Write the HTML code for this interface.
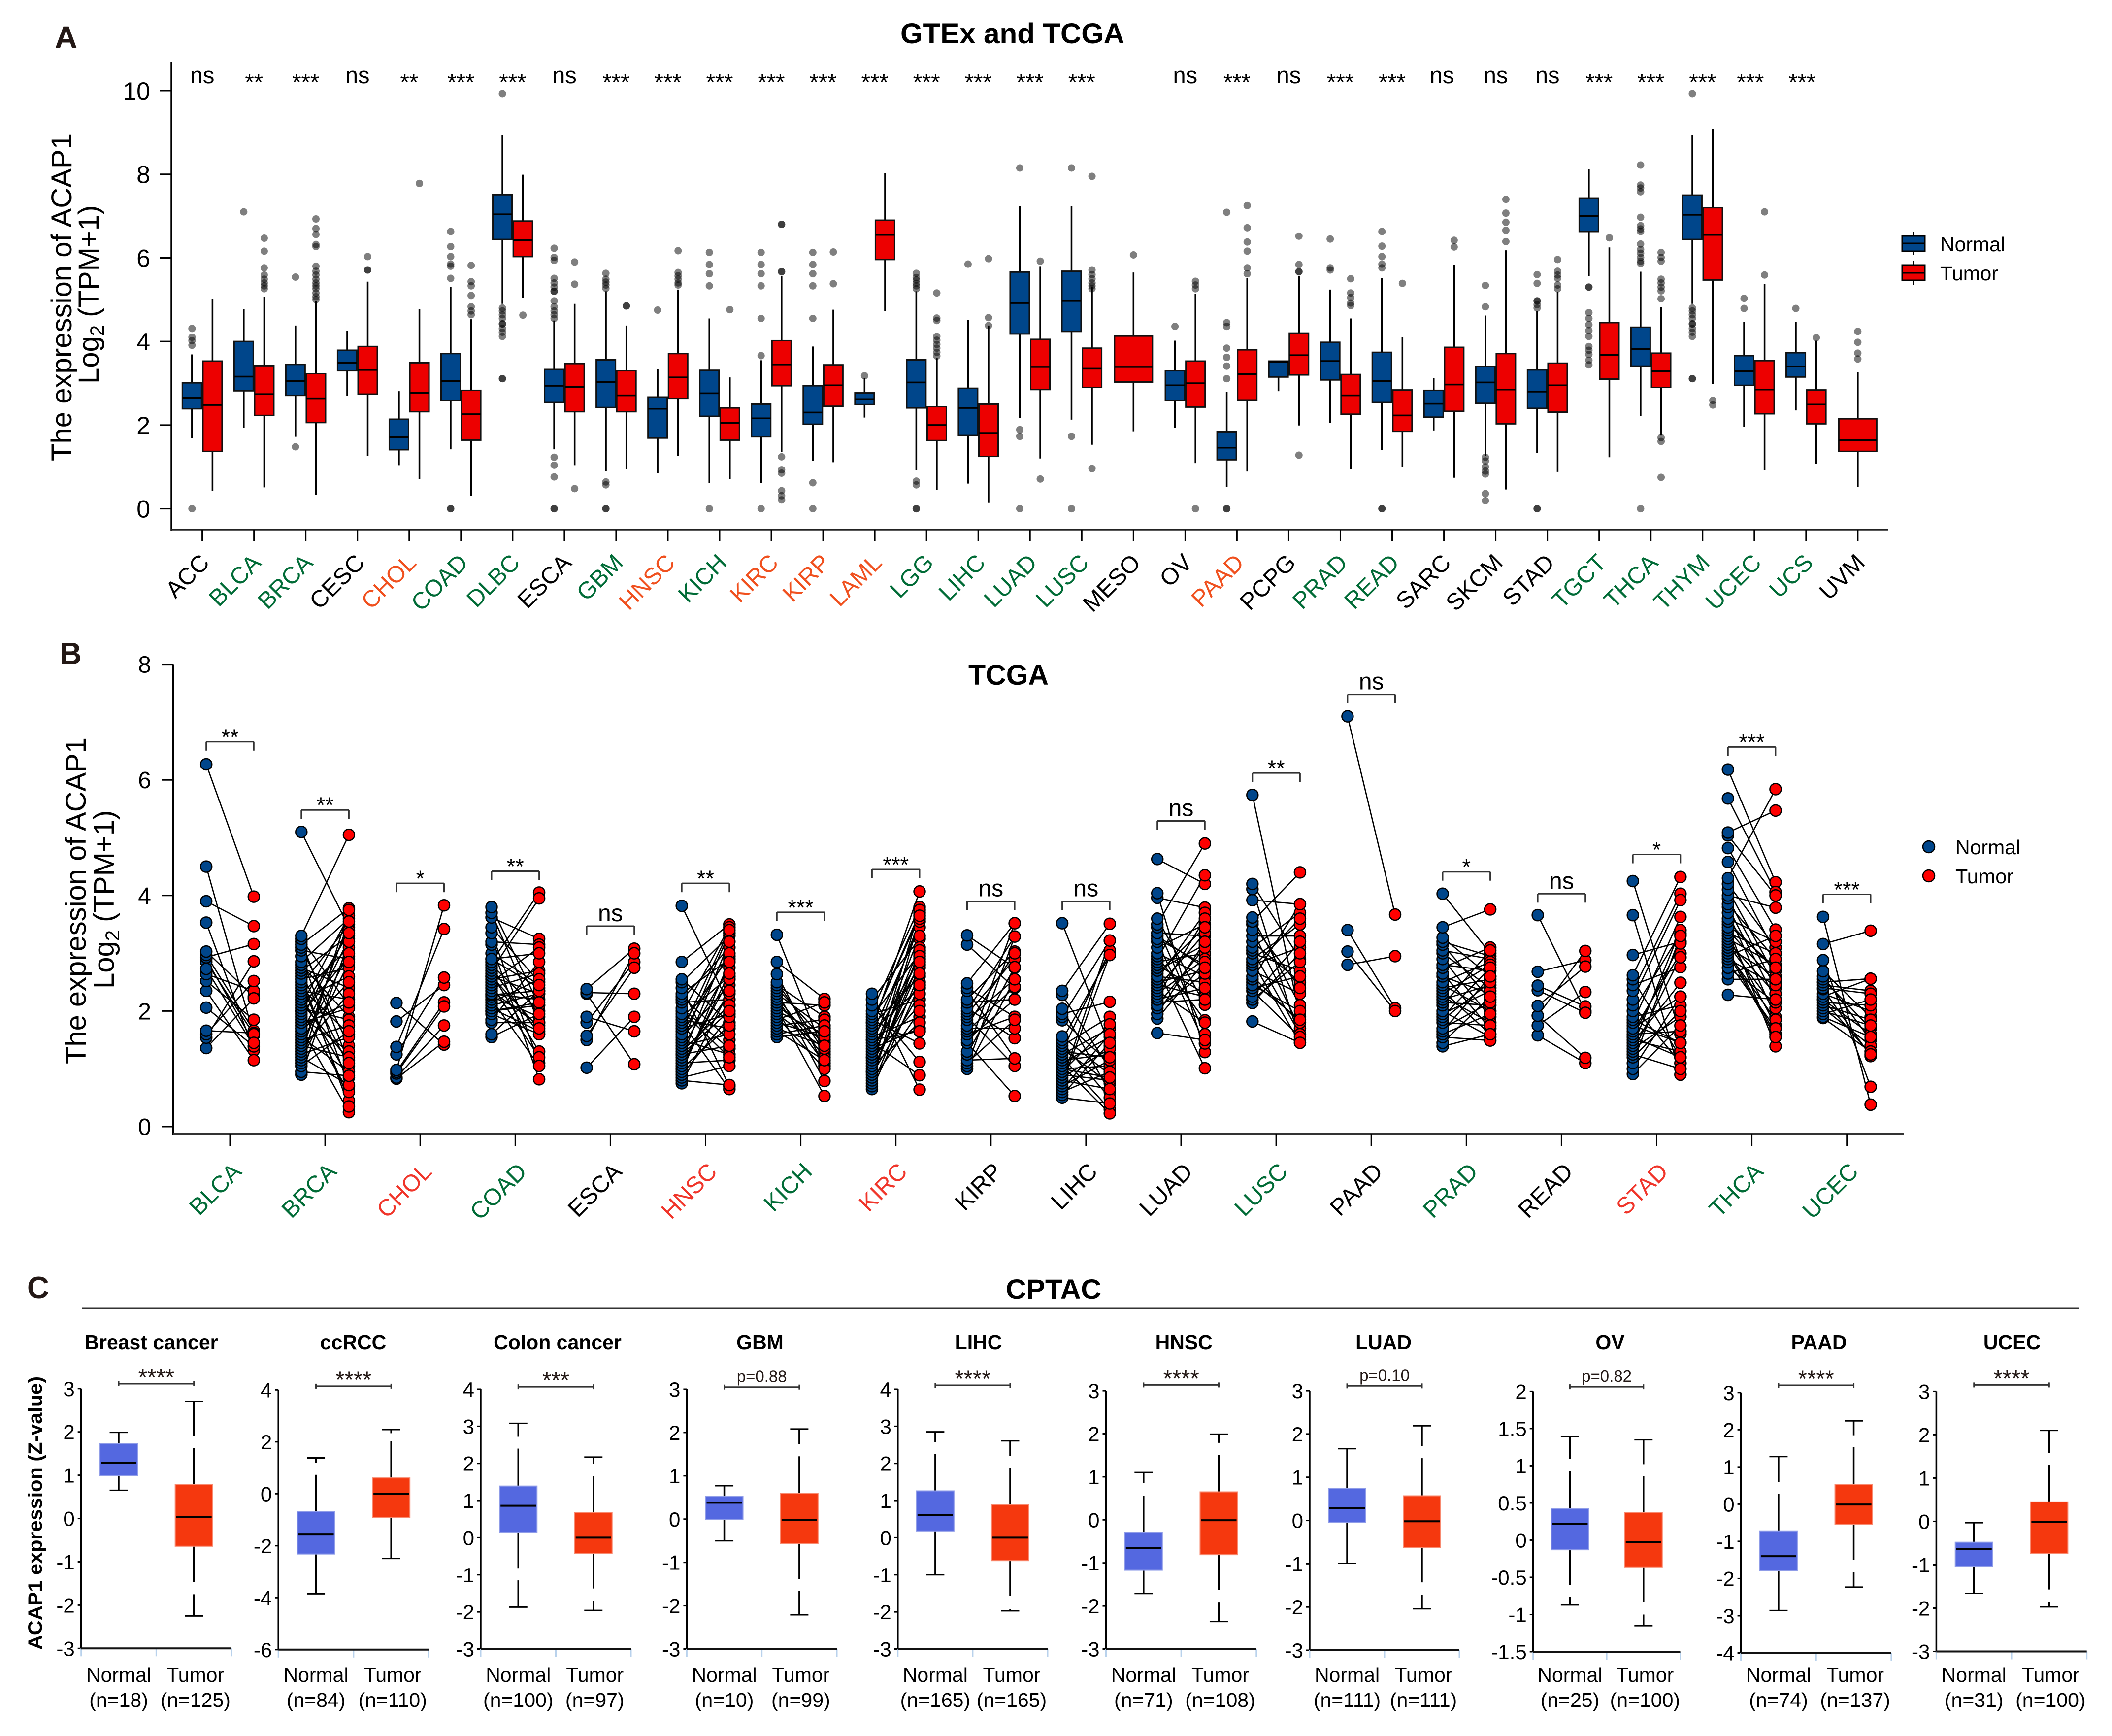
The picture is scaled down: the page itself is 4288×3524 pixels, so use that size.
<!DOCTYPE html>
<html lang="en">
<head>
<meta charset="utf-8">
<title>ACAP1 expression across cancers</title>
<style>
html,body{margin:0;padding:0;background:#fff;}
svg{display:block;font-family:"Liberation Sans",Arial,sans-serif;}
</style>
</head>
<body>
<svg id="figure" xmlns="http://www.w3.org/2000/svg" width="4288" height="3524" viewBox="0 0 4288 3524">
<rect x="0" y="0" width="4288" height="3524" fill="#fff"/>
<text x="111" y="98" font-size="64" font-weight="bold" fill="#231815">A</text>
<text x="121" y="1348" font-size="62" font-weight="bold" fill="#231815">B</text>
<text x="55" y="2635" font-size="62" font-weight="bold" fill="#231815">C</text>
<text x="1828" y="88" font-size="58" font-weight="bold" textLength="455" lengthAdjust="spacingAndGlyphs">GTEx and TCGA</text>
<text x="1966" y="1390" font-size="58" font-weight="bold" textLength="163" lengthAdjust="spacingAndGlyphs">TCGA</text>
<text x="2042" y="2636" font-size="56" font-weight="bold" textLength="194" lengthAdjust="spacingAndGlyphs">CPTAC</text>
<line x1="167" y1="2656" x2="4221" y2="2656" stroke="#333" stroke-width="3"/>
<text transform="translate(145,936) rotate(-90)" font-size="58" textLength="665" lengthAdjust="spacingAndGlyphs">The expression of ACAP1</text>
<text transform="translate(200,779) rotate(-90)" font-size="58">Log<tspan font-size="40" dy="11">2</tspan><tspan dy="-11"> (TPM+1)</tspan></text>
<text transform="translate(174,2160) rotate(-90)" font-size="58" textLength="663" lengthAdjust="spacingAndGlyphs">The expression of ACAP1</text>
<text transform="translate(231,2007) rotate(-90)" font-size="58">Log<tspan font-size="40" dy="11">2</tspan><tspan dy="-11"> (TPM+1)</tspan></text>
<text transform="translate(85,3349) rotate(-90)" font-size="40" font-weight="bold" textLength="555" lengthAdjust="spacingAndGlyphs">ACAP1 expression (Z-value)</text>

<g>
  <line x1="3885" y1="470" x2="3885" y2="518" stroke="#000" stroke-width="3"/>
  <rect x="3862" y="479" width="46" height="31" fill="#00468b" stroke="#000" stroke-width="3"/>
  <line x1="3862" y1="494" x2="3908" y2="494" stroke="#000" stroke-width="3"/>
  <text x="3939" y="510" font-size="41" textLength="132" lengthAdjust="spacingAndGlyphs">Normal</text>
  <line x1="3885" y1="529" x2="3885" y2="579" stroke="#000" stroke-width="3"/>
  <rect x="3862" y="538" width="46" height="31" fill="#ed0000" stroke="#000" stroke-width="3"/>
  <line x1="3862" y1="554" x2="3908" y2="554" stroke="#000" stroke-width="3"/>
  <text x="3939" y="569" font-size="41" textLength="118" lengthAdjust="spacingAndGlyphs">Tumor</text>
</g>
<g>
  <circle cx="3916" cy="1719" r="12" fill="#00468b" stroke="#000" stroke-width="2.5"/>
  <text x="3970" y="1734" font-size="41" textLength="132" lengthAdjust="spacingAndGlyphs">Normal</text>
  <circle cx="3916" cy="1778" r="12" fill="#ff0000" stroke="#000" stroke-width="2.5"/>
  <text x="3970" y="1793" font-size="41" textLength="118" lengthAdjust="spacingAndGlyphs">Tumor</text>
</g>
<g id="panelA"></g>
<g id="panelB"></g>
<g id="panelC"></g>
</svg>
<script>
/* ---------- Panel A data ---------- */
const aCategories = ["ACC","BLCA","BRCA","CESC","CHOL","COAD","DLBC","ESCA","GBM","HNSC","KICH","KIRC","KIRP","LAML","LGG","LIHC","LUAD","LUSC","MESO","OV","PAAD","PCPG","PRAD","READ","SARC","SKCM","STAD","TGCT","THCA","THYM","UCEC","UCS","UVM"];
const aLabelTone = ["k","g","g","k","o","g","g","k","g","o","g","o","o","o","g","g","g","g","k","k","o","k","g","g","k","k","k","g","g","g","g","g","k"];
const aSignif = ["ns","**","***","ns","**","***","***","ns","***","***","***","***","***","***","***","***","***","***","","ns","***","ns","***","***","ns","ns","ns","***","***","***","***","***",""];
const aYTicks = [0,2,4,6,8,10];
const aNormalQ3 = [3.01,4.0,3.45,3.79,2.14,3.71,7.51,3.33,3.56,2.67,3.31,2.5,2.94,2.77,3.56,2.88,5.66,5.68,null,3.3,1.84,3.53,3.98,3.74,2.83,3.4,3.32,7.43,4.34,7.5,3.66,3.73,null];
const aNormalMed = [2.65,3.16,3.05,3.49,1.71,3.05,7.04,2.94,3.03,2.39,2.76,2.16,2.3,2.62,3.02,2.41,4.92,4.97,null,2.95,1.46,3.51,3.53,3.05,2.51,3.02,2.8,7.0,3.82,7.03,3.29,3.4,null];
const aNormalQ1 = [2.39,2.82,2.71,3.3,1.41,2.59,6.44,2.54,2.42,1.69,2.21,1.72,2.02,2.49,2.41,1.75,4.18,4.24,null,2.59,1.17,3.15,3.08,2.54,2.19,2.52,2.4,6.63,3.41,6.44,2.95,3.15,null];
const aNormalHi = [3.69,4.78,4.38,4.25,2.81,5.31,8.94,4.5,5.2,3.34,4.55,3.55,3.88,3.13,5.2,4.52,7.24,7.24,null,4.02,2.79,3.53,5.24,5.51,3.13,4.62,4.73,8.12,5.67,8.94,4.47,4.47,null];
const aNormalLo = [1.68,1.94,1.72,2.7,1.04,1.42,4.9,1.42,.9,.85,.62,.62,1.14,2.18,.92,.6,2.17,2.13,null,1.94,.52,2.81,2.05,1.41,1.87,1.26,1.33,5.56,2.21,4.9,1.96,2.35,null];
const aTumorQ3 = [3.53,3.42,3.23,3.88,3.49,2.83,6.88,3.47,3.3,3.71,2.41,4.02,3.44,6.9,2.44,2.5,4.05,3.84,4.13,3.53,3.8,4.2,3.21,2.84,3.86,3.71,3.48,4.45,3.72,7.2,3.54,2.84,2.15];
const aTumorMed = [2.48,2.74,2.64,3.32,2.77,2.26,6.42,2.91,2.71,3.14,2.05,3.45,2.95,6.55,2.0,1.81,3.39,3.35,3.39,3.0,3.22,3.67,2.71,2.23,2.97,2.85,2.95,3.68,3.29,6.55,2.85,2.49,1.64];
const aTumorQ1 = [1.37,2.23,2.06,2.74,2.32,1.64,6.03,2.32,2.32,2.64,1.64,2.94,2.45,5.96,1.63,1.25,2.85,2.9,3.03,2.43,2.6,3.2,2.26,1.85,2.33,2.03,2.31,3.1,2.9,5.47,2.27,2.03,1.37];
const aTumorHi = [5.02,5.07,4.97,5.43,4.78,4.53,7.99,4.9,4.38,5.24,3.14,5.57,4.76,8.03,3.6,4.38,5.8,5.3,5.65,5.14,5.52,5.57,4.55,4.1,5.84,6.18,5.18,6.25,4.82,9.09,5.37,4.02,3.27];
const aTumorLo = [.43,.51,.33,1.26,.71,.31,5.04,1.04,.95,1.26,.71,1.35,1.11,4.73,.45,.14,1.2,1.53,1.85,1.09,.89,1.99,.94,.99,.74,.46,.88,1.23,1.75,2.98,.92,1.07,.52];
const aNormalOutliers = [
 [4.31,4.10,4.02,3.91,0],[7.1],[5.54,1.48],[],[],[6.63,6.27,6.03,5.85,5.8,5.51,0,0],
 [9.93,4.8,4.73,4.64,4.55,4.42,4.42,4.31,4.22,4.12,3.11,3.11],[6.23,6.01,5.94,5.51,5.4,5.3,5.2,5.2,4.97,4.83,4.73,4.64,4.55,1.23,1.04,.76,0,0],
 [5.63,5.49,5.42,5.35,5.27,.64,.57,0,0],[4.75],[6.13,5.84,5.62,5.33,0],[6.13,5.84,5.62,5.33,4.55,3.66,0],
 [6.13,5.84,5.62,5.33,4.55,.62,0],[3.18],[5.63,5.53,5.47,5.39,5.33,5.26,.66,.57,0,0],[5.85],[8.15,1.89,1.73,0],[8.15,1.73,0],
 [],[4.36],[7.09,4.45,4.36,3.84,3.62,3.41,3.11,0,0],[],[6.45,5.76,5.71],[6.63,6.28,6.03,5.85,5.76,0,0],
 [],[5.34,4.83,1.23,1.14,1.0,.9,.83,.36,.19],[5.6,5.39,4.97,4.97,4.88,4.8,0,0],[5.3,5.3,4.69,4.55,4.4,4.26,4.12,3.88,3.79,3.69,3.55,3.44],
 [8.22,7.74,7.67,7.58,6.97,6.77,6.69,6.63,6.33,6.2,6.11,6.01,5.92,5.87,0],[9.93,4.8,4.73,4.64,4.55,4.42,4.42,4.31,4.22,4.12,3.11,3.11],[5.03,4.79],[4.79],[]
];
const aTumorOutliers = [
 [],[6.47,6.16,5.76,5.59,5.49,5.4,5.33,5.26],[6.93,6.7,6.56,6.32,6.27,5.8,5.68,5.59,5.49,5.4,5.33,5.26,5.16,5.07,5.0],[6.03,5.71,5.71],[7.78],[5.82,5.43,5.33,5.1,4.83,4.73,4.64],
 [4.63],[5.9,5.37,.48],[4.85,4.85],[6.17,5.65,5.57,5.49,5.4,5.35],[4.76],[6.8,6.8,5.67,5.67,1.24,.93,.85,.43,.31,.21],
 [6.14,5.38],[],[5.16,4.56,4.5,4.12,4.03,3.93,3.84,3.74,3.65],[5.98,4.57,4.38],[5.92,.71],[7.95,5.71,5.6,5.5,5.4,5.33,5.26,.96],
 [6.07],[5.44,5.35,5.26,0],[7.25,6.72,6.38,6.16,5.76,5.62],[6.52,5.84,5.67,5.67,1.28],[5.5,5.16,5.05,4.92,4.86],[5.39],
 [6.42,6.26],[7.4,7.07,6.85,6.66,6.39],[5.96,5.68,5.59,5.51,5.35,5.26],[6.48],[6.13,6.01,5.92,5.49,5.4,5.3,5.21,5.02,1.7,1.61,.75],[2.59,2.48],[7.1,5.59],[4.09],[4.24,3.98,3.72,3.58]
];

/* ---------- Panel B data ---------- */
const bCategories = ["BLCA","BRCA","CHOL","COAD","ESCA","HNSC","KICH","KIRC","KIRP","LIHC","LUAD","LUSC","PAAD","PRAD","READ","STAD","THCA","UCEC"];
const bLabelTone = ["g","g","r","g","k","r","g","r","k","k","k","g","k","g","k","r","g","g"];
const bSignif = ["**","**","*","**","ns","**","***","***","ns","ns","ns","**","ns","*","ns","*","***","***"];
const bBracketLevel = [6.66,5.48,4.21,4.42,3.47,4.21,3.71,4.45,3.9,3.9,5.29,6.12,7.48,4.41,4.03,4.71,6.57,4.02];
const bYTicks = [0,2,4,6,8];
const bNormal = [
 [6.27,4.5,3.9,3.53,3.03,2.97,2.93,2.73,2.64,2.52,2.35,2.06,1.66,1.6,1.54,1.36,2.85,2.9],
 [5.1,3.3,3.25,3.15,3.1,3.05,2.95,2.85,2.8,2.75,2.7,2.65,2.55,2.5,2.45,2.4,2.35,2.3,2.25,2.2,2.15,2.1,2.05,2.0,1.95,1.9,1.85,1.8,1.7,1.65,1.6,1.55,1.5,1.45,1.4,1.35,1.3,1.25,1.2,1.15,1.1,1.05,.95,.9,3.2,2.6,2.0,1.75],
 [2.14,1.82,1.38,1.25,.98,.95,.92,.85,.83],
 [3.8,3.7,3.62,3.45,3.35,3.2,3.15,2.9,2.85,2.8,2.75,2.7,2.65,2.6,2.55,2.5,2.45,2.4,2.35,2.3,2.28,2.25,2.2,2.15,2.1,2.05,2.0,1.95,1.85,1.8,1.6,1.55,2.0,2.6,2.9,3.0],
 [2.38,2.32,2.3,1.9,1.8,1.57,1.5,1.02],
 [3.82,2.85,2.55,2.5,2.4,2.3,2.25,2.2,2.15,2.05,1.95,1.9,1.85,1.8,1.75,1.7,1.6,1.55,1.5,1.45,1.4,1.35,1.3,1.25,1.2,1.15,1.1,1.05,1.0,.95,.9,.85,.8,.75,2.0,1.65,1.25,1.0],
 [3.32,2.85,2.64,2.5,2.45,2.4,2.35,2.3,2.25,2.2,2.15,2.1,2.05,2.0,1.95,1.9,1.85,1.8,1.75,1.7,1.65,1.6,1.55],
 [2.3,2.2,2.1,2.0,1.95,1.9,1.85,1.8,1.75,1.7,1.65,1.6,1.55,1.5,1.45,1.4,1.35,1.3,1.25,1.2,1.15,1.1,1.05,1.0,.95,.9,.85,.8,.75,.7,.65,1.5,1.2,.95,1.8],
 [3.31,3.15,2.48,2.4,2.35,2.2,2.15,2.05,2.0,1.95,1.9,1.85,1.75,1.7,1.65,1.6,1.5,1.45,1.3,1.25,1.15,1.1,1.05,1.0],
 [3.52,2.35,2.28,2.04,1.95,1.9,1.84,1.56,1.5,1.45,1.4,1.35,1.3,1.25,1.2,1.15,1.1,1.05,1.0,.95,.9,.85,.8,.75,.7,.65,.6,.55,.5,1.3,1.0,.8],
 [4.63,4.04,3.96,3.6,3.5,3.45,3.35,3.25,3.2,3.1,3.0,2.95,2.9,2.85,2.8,2.75,2.7,2.6,2.55,2.5,2.45,2.4,2.35,2.3,2.25,2.2,2.1,2.05,1.95,1.87,1.62,3.3,2.65,2.15],
 [5.74,4.2,4.11,3.92,3.62,3.55,3.4,3.3,3.2,3.1,3.05,3.0,2.9,2.85,2.8,2.7,2.6,2.55,2.45,2.4,2.35,2.25,2.2,2.14,1.82,3.5,2.75,2.5],
 [7.1,3.4,3.03,2.8],
 [4.03,3.45,3.27,3.2,3.15,3.05,3.0,2.9,2.8,2.75,2.65,2.6,2.5,2.45,2.4,2.35,2.3,2.25,2.2,2.15,2.1,2.0,1.95,1.9,1.85,1.8,1.7,1.65,1.6,1.55,1.45,1.39],
 [3.66,2.68,2.44,2.36,2.09,1.92,1.75,1.58,1.92],
 [4.25,3.66,2.97,2.62,2.55,2.45,2.35,2.2,2.1,2.0,1.9,1.85,1.8,1.7,1.65,1.6,1.55,1.5,1.45,1.4,1.35,1.3,1.25,1.2,1.1,1.0,.91,1.75,1.55],
 [6.18,5.68,5.09,5.04,4.82,4.58,4.3,4.2,4.1,4.0,3.95,3.85,3.8,3.7,3.6,3.55,3.45,3.4,3.35,3.3,3.25,3.2,3.15,3.1,3.05,3.0,2.95,2.9,2.85,2.75,2.65,2.55,2.28,3.5,3.0],
 [3.63,3.16,2.88,2.69,2.6,2.55,2.5,2.45,2.4,2.38,2.3,2.25,2.2,2.15,2.1,2.05,2.0,1.95,1.9,1.88,2.5,2.2]
];
const bTumor = [
 [3.98,1.58,3.47,1.32,2.25,1.66,3.16,1.39,2.35,1.85,1.15,1.39,1.62,2.52,2.86,2.22,1.6,1.45],
 [3.45,5.05,2.1,3.78,1.4,2.9,.7,3.6,1.9,2.4,3.3,1.05,2.75,.45,3.5,1.6,2.2,3.1,.85,2.6,1.15,3.65,1.85,.6,2.95,1.3,3.4,2.05,.25,2.5,3.25,.95,1.75,3.0,1.2,2.3,3.55,1.55,.72,2.85,3.75,1.65,.88,3.2,1.1,.35,3.35,2.15],
 [1.42,2.45,3.42,2.58,3.83,2.15,2.08,1.75,1.47],
 [2.1,1.8,3.25,2.5,1.1,3.15,.82,2.4,4.05,2.0,1.6,3.95,1.3,2.3,2.7,3.1,1.2,2.65,1.75,2.2,2.35,1.9,1.05,2.55,2.3,1.65,2.1,1.6,2.85,1.8,2.35,1.95,2.15,1.7,3.0,2.45],
 [3.08,2.3,1.08,1.65,2.85,2.75,3.0,1.9],
 [2.1,3.5,1.8,3.3,.7,2.9,1.5,3.1,2.2,1.35,3.45,2.6,1.7,.65,2.95,1.95,3.0,2.45,1.25,3.35,1.6,2.75,2.1,1.4,3.2,2.3,1.15,2.55,1.75,2.85,1.9,1.05,.72,2.35,1.2,3.4,2.0,2.65],
 [1.25,2.21,1.05,1.3,1.9,1.5,.79,1.7,1.2,1.1,2.1,1.45,.53,1.6,1.35,1.0,2.15,1.55,1.85,1.4,1.15,1.75,1.65],
 [.64,3.25,1.12,3.8,2.2,3.0,1.44,3.7,2.6,4.07,2.4,3.45,1.9,2.9,.89,3.55,1.7,2.8,3.3,2.1,3.1,2.5,1.8,3.75,2.75,2.3,3.05,2.0,3.6,2.65,2.45,1.65,2.95,2.85,3.65],
 [2.75,2.4,3.52,1.9,1.18,3.03,2.2,1.53,3.29,2.9,1.05,2.55,3.0,1.7,2.42,1.9,2.2,.53,3.52,2.76,1.18,1.85,3.29,2.55],
 [1.4,3.51,1.0,.6,2.16,3.22,1.1,.9,2.97,.5,1.9,.75,3.05,1.7,.3,1.25,1.55,.23,1.05,1.77,.8,1.35,.65,2.97,1.15,1.6,.95,1.45,.4,1.2,.85,3.22],
 [4.2,1.29,3.79,2.11,4.9,1.6,3.3,2.8,1.44,3.5,2.6,1.84,4.35,3.0,2.3,1.01,3.15,2.5,3.7,2.7,2.25,3.35,1.8,2.9,3.6,2.4,3.1,2.65,3.2,2.85,1.5,2.75,3.45,2.2],
 [1.9,2.9,1.5,3.85,2.1,4.4,1.7,3.3,2.5,3.7,1.6,2.7,3.5,1.45,3.1,2.3,1.8,3.85,2.0,2.6,1.55,3.2,2.85,3.0,1.45,2.4,3.6,1.85],
 [3.67,2.05,2.0,2.95],
 [3.0,3.76,2.6,2.95,2.2,2.9,2.4,1.9,2.7,3.1,1.7,2.3,2.85,2.0,2.55,1.6,2.8,1.8,2.45,2.1,3.05,1.55,2.35,2.75,2.5,1.75,2.15,2.6,1.95,1.49,2.25,1.6],
 [2.0,2.88,2.08,1.97,2.77,3.04,2.33,1.10,1.19],
 [1.6,.9,3.2,4.32,1.2,2.76,4.03,3.92,1.1,3.34,2.1,1.45,3.63,2.25,3.0,1.65,3.17,1.3,2.49,3.4,1.9,2.93,1.0,2.0,3.3,2.25,1.75,1.45,1.2],
 [4.23,4.06,5.47,4.0,3.41,3.0,5.84,3.1,2.6,3.79,2.4,2.9,2.2,1.9,3.2,2.7,1.39,2.5,3.0,1.75,2.8,2.3,2.05,2.6,1.6,1.85,3.3,2.45,1.7,2.15,2.9,2.55,2.2,2.75,1.55],
 [.38,3.39,.69,1.9,1.5,1.7,2.56,2.35,2.3,1.22,2.0,2.56,1.6,2.1,1.85,1.4,1.75,2.2,1.55,1.3,2.56,1.25]
];

/* ---------- Panel C data ---------- */
const cTitles = ["Breast cancer","ccRCC","Colon cancer","GBM","LIHC","HNSC","LUAD","OV","PAAD","UCEC"];
const cSignif = ["****","****","***","p=0.88","****","****","p=0.10","p=0.82","****","****"];
const cNormalN = [18,84,100,10,165,71,111,25,74,31];
const cTumorN = [125,110,97,99,165,108,111,100,137,100];
const cTicks = [
 [3,2,1,0,-1,-2,-3],[4,2,0,-2,-4,-6],[4,3,2,1,0,-1,-2,-3],[3,2,1,0,-1,-2,-3],[4,3,2,1,0,-1,-2,-3],
 [3,2,1,0,-1,-2,-3],[3,2,1,0,-1,-2,-3],[2,1.5,1,0.5,0,-0.5,-1,-1.5],[3,2,1,0,-1,-2,-3,-4],[3,2,1,0,-1,-2,-3]
];
const cNormalQ3 = [1.73,-.69,1.39,.52,1.26,-.29,.74,.42,-.72,-.48];
const cNormalMed = [1.29,-1.55,.86,.38,.61,-.65,.29,.22,-1.4,-.64];
const cNormalQ1 = [.99,-2.32,.14,-.01,.18,-1.17,-.04,-.13,-1.79,-1.04];
const cNormalHi = [1.99,1.38,3.08,.77,2.85,1.1,1.66,1.39,1.28,-.03];
const cNormalLo = [.65,-3.85,-1.87,-.5,-1.0,-1.71,-.99,-.87,-2.86,-1.66];
const cTumorQ3 = [.78,.61,.67,.59,.89,.65,.57,.37,.53,.45];
const cTumorMed = [.03,0,0,-.02,0,-.01,-.02,-.03,-.01,-.01];
const cTumorQ1 = [-.64,-.91,-.42,-.57,-.62,-.81,-.62,-.36,-.55,-.74];
const cTumorHi = [2.70,2.47,2.17,2.08,2.61,1.99,2.19,1.35,2.24,2.1];
const cTumorLo = [-2.25,-2.49,-1.96,-2.21,-1.97,-2.36,-2.04,-1.15,-2.23,-1.97];
const cNormalWhiskerBreaks = [[],[[1.2,.73]],[[2.72,2.4],[-.82,-1.15]],[],[[2.58,2.25]],[[.86,.56]],[],[[1.09,.93],[-.6,-.76]],[[.59,.27]],[]];
const cTumorWhiskerBreaks = [[[1.91,1.63],[-1.47,-1.75]],[[2.33,2.02]],[[1.99,1.66],[-1.37,-1.7]],[[1.73,1.45],[-1.38,-1.66]],[[2.2,1.88],[-1.57,-1.93]],[[1.79,1.51],[-1.63,-1.92]],[[1.72,1.44],[-1.43,-1.72]],[[1.02,.86],[-.83,-1]],[[1.85,1.53],[-1.5,-1.83]],[[1.58,1.3],[-1.57,-1.85]]];

/* ---------- Layout (not data) ---------- */
const cAxisLeft = [164.7,565.2,976,1394.4,1822.8,2245.5,2659,3112.7,3534.6,3931.4];
const cAxisRight = [470,870.5,1281,1699,2127,2550.8,2963,3411.5,3839.9,4236.7];
const cAxisTop = [2818.8,2821.3,2820,2820,2820,2823.1,2823.1,2824.4,2826.8,2824.4];
const cAxisBottom = [3346.3,3348.8,3347.5,3347.5,3347.5,3347.5,3350,3353,3355.5,3352.5];
const cBracketPx = [2809,2813.9,2815.1,2815.7,2812,2811.4,2813.3,2815.1,2812,2811.4];
const cTitleCenter = [307,717,1132,1543,1986.5,2403.7,2809,3269,3693,4085];

const NS = "http://www.w3.org/2000/svg";
const TONES = {k:"#000000",g:"#006b36",o:"#f0501e",r:"#f0352a"};
const xA = i => 410.6 + i*105.04;
const yA = v => 1032.6 - v*84.86;
const xB = i => 467 + i*193.1;
const yB = v => 2287 - v*117.3;

function node(tag, parent){
  const el = document.createElementNS(NS, tag);
  parent.appendChild(el);
  return el;
}
function setA(el, map){
  for (const k in map) el.setAttribute(k, map[k]);
}
function seg(parent, x1,y1,x2,y2, stroke, w, name){
  const el = node("line", parent);
  setA(el,{x1:x1,y1:y1,x2:x2,y2:y2,stroke:stroke,"stroke-width":w});
  
  
  return el;
}
function rectBox(parent, x,y,w,h, fill, stroke, sw, name){
  const el = node("rect", parent);
  setA(el,{x:x,y:y,width:w,height:h,fill:fill});
  if (stroke) setA(el,{stroke:stroke,"stroke-width":sw});
  
  
  return el;
}
function dot(parent, cx,cy,r, fill, stroke, sw, name){
  const el = node("circle", parent);
  setA(el,{cx:cx,cy:cy,r:r,fill:fill});
  if (stroke) setA(el,{stroke:stroke,"stroke-width":sw});
  
  
  return el;
}
function label(parent, x,y,str,size,anchor,fill,rot,name,weight){
  const el = node("text", parent);
  setA(el,{transform:"translate("+x+","+y+")"+(rot?" rotate("+rot+")":""),"font-size":size,"text-anchor":anchor,fill:fill});
  if (weight) el.setAttribute("font-weight", weight);
  el.textContent = str;
  
  
  return el;
}

function drawBoxA(g, cx, w, hi, q3, med, q1, lo, outs, fill, tag){
  seg(g, cx, yA(hi), cx, yA(lo), "#000", 3.5, tag+"-whisker");
  rectBox(g, cx-w/2, yA(q3), w, yA(q1)-yA(q3), fill, "#111", 3, tag+"-box");
  seg(g, cx-w/2, yA(med), cx+w/2, yA(med), "#000", 3.5, tag+"-median");
  outs.forEach(function(v){
    dot(g, cx, yA(v), 7.5, "rgba(0,0,0,0.5)", null, 0, tag+"-outlier");
  });
}

(function drawA(){
  const g = document.getElementById("panelA");
  seg(g, 348, 126, 348, 1077, "#000", 3.5, "panel-a-y-axis");
  seg(g, 348, 1075, 3834, 1075, "#222", 3.5, "panel-a-x-axis");
  aYTicks.forEach(function(t){
    seg(g, 325, yA(t), 348, yA(t), "#000", 3, "panel-a-y-tick");
    label(g, 305, yA(t)+18, String(t), 50, "end", "#000", 0, "panel-a-y-tick-label");
  });
  aCategories.forEach(function(c,i){
    const x = xA(i);
    seg(g, x, 1075, x, 1099, "#000", 3, "panel-a-x-tick");
    label(g, x+17, 1145, c, 48, "end", TONES[aLabelTone[i]], -45, "panel-a-label-"+c.toLowerCase());
    const sig = aSignif[i];
    const nudge = (c==="UCEC"||c==="UCS") ? -8 : (c==="SARC" ? -4 : 0);
    if (sig==="ns") label(g, x+nudge, 169, "ns", 47, "middle", "#000", 0, "panel-a-significance-"+c.toLowerCase());
    else if (sig) label(g, x+nudge, 183, sig, 47, "middle", "#000", 0, "panel-a-significance-"+c.toLowerCase());
    const hasNormal = aNormalQ3[i] !== null;
    const off = hasNormal ? 20.8 : 0;
    const w = hasNormal ? 39 : 77;
    if (hasNormal) drawBoxA(g, x-off, w, aNormalHi[i], aNormalQ3[i], aNormalMed[i], aNormalQ1[i], aNormalLo[i], aNormalOutliers[i], "#00468b", "normal-"+c.toLowerCase());
    drawBoxA(g, x+off, w, aTumorHi[i], aTumorQ3[i], aTumorMed[i], aTumorQ1[i], aTumorLo[i], aTumorOutliers[i], "#ed0000", "tumor-"+c.toLowerCase());
  });
})();

(function drawB(){
  const g = document.getElementById("panelB");
  seg(g, 351.5, 1348.4, 351.5, 2303, "#000", 3.5, "panel-b-y-axis");
  seg(g, 351.5, 2302, 3866, 2302, "#333", 4, "panel-b-x-axis");
  bYTicks.forEach(function(t){
    seg(g, 328, yB(t), 351.5, yB(t), "#000", 3, "panel-b-y-tick");
    label(g, 307, yB(t)+17, String(t), 48, "end", "#000", 0, "panel-b-y-tick-label");
  });
  const off = 48.3, r = 11.5;
  bCategories.forEach(function(c,i){
    const x = xB(i), name = c.toLowerCase();
    seg(g, x, 2302, x, 2326, "#000", 3, "panel-b-x-tick");
    label(g, x+26, 2381, c, 48, "end", TONES[bLabelTone[i]], -45, "panel-b-label-"+name);
    const ns = bNormal[i], ts = bTumor[i], n = Math.min(ns.length, ts.length);
    for (let k=0;k<n;k++) seg(g, x-off, yB(ns[k]), x+off, yB(ts[k]), "#000", 2.6, "pair-line-"+name);
    for (let k=n-1;k>=0;k--) dot(g, x-off, yB(ns[k]), r, "#00468b", "#000", 2.5, "normal-point-"+name);
    for (let k=0;k<n;k++) dot(g, x+off, yB(ts[k]), r, "#ff0000", "#000", 2.5, "tumor-point-"+name);
    const by = yB(bBracketLevel[i]);
    seg(g, x-off, by, x+off, by, "#333", 3, "bracket-"+name);
    seg(g, x-off, by, x-off, by+18, "#333", 3, "bracket-left-"+name);
    seg(g, x+off, by, x+off, by+18, "#333", 3, "bracket-right-"+name);
    if (bSignif[i]==="ns") label(g, x, by-10, "ns", 48, "middle", "#000", 0, "panel-b-significance-"+name);
    else label(g, x, by+6, bSignif[i], 45, "middle", "#000", 0, "panel-b-significance-"+name);
  });
})();

(function drawC(){
  const root = document.getElementById("panelC");
  cTitles.forEach(function(title,i){
    const g = node("g", root);
    
    
    const L = cAxisLeft[i], R = cAxisRight[i], T = cAxisTop[i], B = cAxisBottom[i];
    const ticks = cTicks[i], vMax = ticks[0], vMin = ticks[ticks.length-1];
    const y = v => T + (vMax-v)/(vMax-vMin)*(B-T);
    const xN = L + (R-L)*0.25, xT = L + (R-L)*0.75;
    label(g, cTitleCenter[i], 2739, title, 41, "middle", "#000", 0, "cptac-title", "bold");
    seg(g, L, T, L, B+2, "#000", 3.5, "cptac-y-axis");
    ticks.forEach(function(t){
      seg(g, L-7, y(t), L, y(t), "#000", 3, "cptac-y-tick");
      label(g, L-13, y(t)+15, String(t), 42, "end", "#000", 0, "cptac-y-tick-label");
    });
    [L,(L+R)/2,R].forEach(function(x){
      seg(g, x, B, x, B+16, "#b9d2ec", 3, "cptac-x-tick");
    });
    seg(g, L, B, R, B, "#111", 4, "cptac-x-axis");

    function drawBox(x, hi,q3,med,q1,lo, breaks, fill, edge, tag){
      seg(g, x, y(hi), x, y(lo), "#000", 3.5, tag+"-whisker");
      seg(g, x-18.5, y(hi), x+18.5, y(hi), "#000", 3, tag+"-cap-high");
      seg(g, x-18.5, y(lo), x+18.5, y(lo), "#000", 3, tag+"-cap-low");
      breaks.forEach(function(b){
        rectBox(g, x-4, y(b[0]), 8, y(b[1])-y(b[0]), "#fff", null, 0, tag+"-whisker-break");
      });
      rectBox(g, x-38, y(q3), 76, y(q1)-y(q3), fill, edge, 2, tag+"-box");
      seg(g, x-36, y(med), x+36, y(med), "#000", 4, tag+"-median");
    }
    drawBox(xN, cNormalHi[i],cNormalQ3[i],cNormalMed[i],cNormalQ1[i],cNormalLo[i], cNormalWhiskerBreaks[i], "#5468e0","#8f9ce8","normal");
    drawBox(xT, cTumorHi[i],cTumorQ3[i],cTumorMed[i],cTumorQ1[i],cTumorLo[i], cTumorWhiskerBreaks[i], "#f5380e","#f88a70","tumor");

    const by = cBracketPx[i];
    seg(g, xN, by, xT, by, "#333", 3, "cptac-bracket");
    seg(g, xN, by-5, xN, by+5, "#333", 3, "cptac-bracket-left");
    seg(g, xT, by-5, xT, by+5, "#333", 3, "cptac-bracket-right");
    if (cSignif[i].charAt(0)==="p") label(g, (xN+xT)/2, by-10, cSignif[i], 33, "middle", "#231815", 0, "cptac-p-value");
    else label(g, (xN+xT)/2, by+3, cSignif[i], 47, "middle", "#231815", 0, "cptac-significance");

    label(g, xN, 3414, "Normal", 41, "middle", "#000", 0, "cptac-normal-label");
    label(g, xT+3, 3414, "Tumor", 41, "middle", "#000", 0, "cptac-tumor-label");
    label(g, xN, 3465, "(n="+cNormalN[i]+")", 41, "middle", "#000", 0, "cptac-normal-count");
    label(g, xT+3, 3465, "(n="+cTumorN[i]+")", 41, "middle", "#000", 0, "cptac-tumor-count");
  });
})();
</script>
</body>
</html>
